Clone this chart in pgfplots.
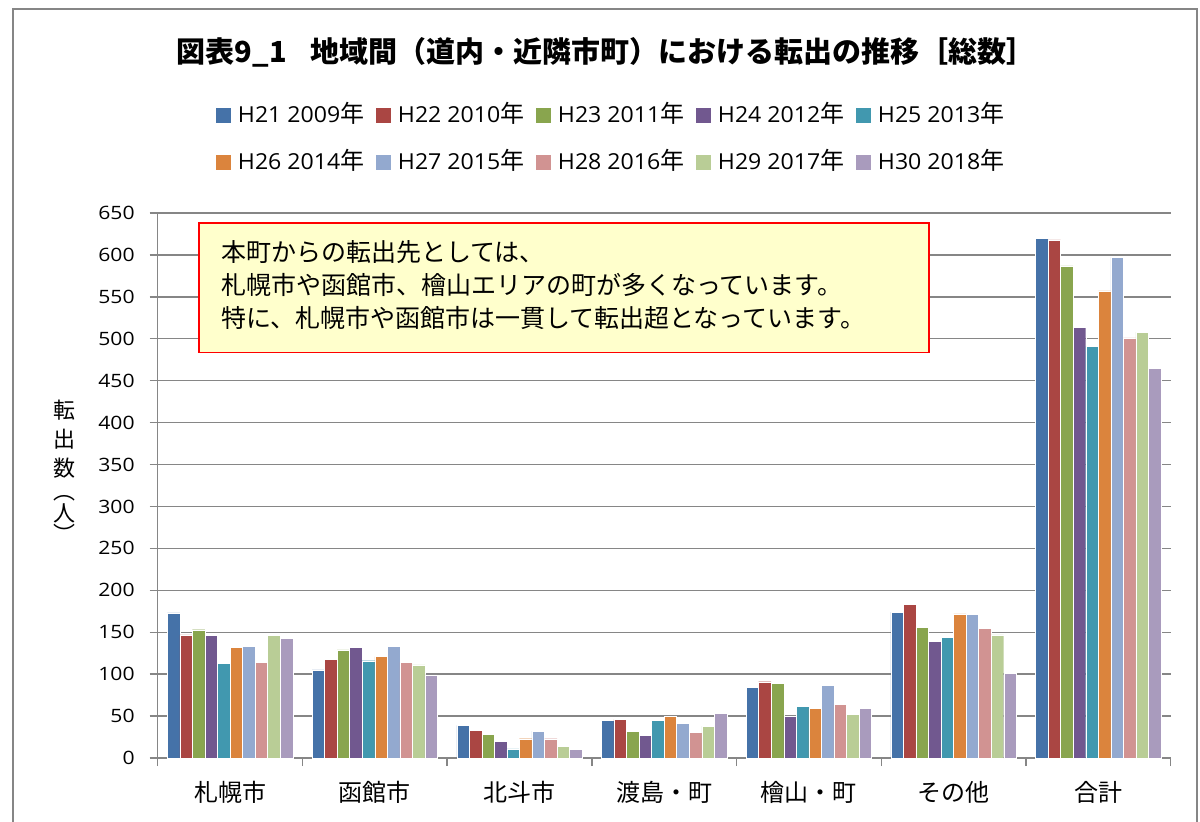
\documentclass[border=0pt]{standalone}
\usepackage{pgfplots}
\pgfplotsset{compat=1.18}
\usepackage{pgfplotstable}
\usepackage{fontspec}
\setmainfont{Noto Sans CJK JP}
\newfontfamily\jp{Noto Sans CJK JP}
\newfontfamily\lat[FakeStretch=1.05]{Open Sans}
\newfontfamily\tlat[FakeStretch=1.15]{Open Sans}
\definecolor{c1}{HTML}{4572A8}
\definecolor{c2}{HTML}{AA4643}
\definecolor{c3}{HTML}{89A54E}
\definecolor{c4}{HTML}{71588F}
\definecolor{c5}{HTML}{4198AF}
\definecolor{c6}{HTML}{DB843D}
\definecolor{c7}{HTML}{93A9CF}
\definecolor{c8}{HTML}{D19392}
\definecolor{c9}{HTML}{B9CD96}
\definecolor{c10}{HTML}{A99BBD}
\definecolor{gridgray}{HTML}{868686}
\definecolor{notefill}{HTML}{FFFFCC}

\pgfplotstableread{
cat y09 y10 y11 y12 y13 y14 y15 y16 y17 y18
0 173 147 153 146 113 132 133 114 146 143
1 105 118 129 132 116 121 133 114 111 99
2 39 33 28 20 11 23 32 23 14 10
3 45 46 32 27 45 50 41 31 38 53
4 84 91 89 50 62 59 87 64 52 59
5 174 183 156 139 144 172 171 155 147 101
6 620 618 587 514 491 557 597 501 508 465
}\datatable

\newcommand{\leg}[2]{\makebox[63.5pt][l]{\lat\fontsize{11}{13}\selectfont #1 #2{\jp\fontsize{12}{13}\selectfont 年}}}

\begin{document}
\begin{tikzpicture}
\useasboundingbox (0,0) rectangle (600pt,410.5pt);
\draw[gridgray, line width=0.75pt] (6.5pt,-2pt) -- (6.5pt,406pt) -- (598.5pt,406pt) -- (598.5pt,-2pt);
\node[font=\jp\bfseries\fontsize{14.5}{16}\selectfont] at (303pt,384.5pt) {図表9\_1\hspace{0.8em}地域間（道内・近隣市町）における転出の推移［総数］};
\begin{axis}[
  at={(78.85pt,31.5pt)}, anchor=south west,
  scale only axis, width=506.45pt, height=272.5pt,
  ybar=0pt, bar width=6.27pt,
  xmin=-0.5, xmax=6.5, ymin=0, ymax=650,
  enlargelimits=false,
  axis lines*=left,
  axis line style={gridgray, line width=0.7pt, -},
  tick align=outside,
  major tick length=4pt, minor tick length=4pt,
  tick style={gridgray, line width=0.7pt},
  xtick={0,...,6},
  xticklabels={札幌市,函館市,北斗市,渡島・町,檜山・町,その他,合計},
  every major x tick/.append style={draw=none},
  minor xtick={-0.5,0.5,...,6.5},
  ytick={0,50,...,650},
  ymajorgrids,
  grid style={gridgray, line width=0.7pt},
  /pgf/number format/assume math mode=true,
  yticklabel style={font=\tlat\fontsize{9.2}{10}\selectfont, xshift=-4pt},
  xticklabel style={font=\jp\fontsize{12}{13}\selectfont, yshift=-4pt},
  legend columns=5,
  legend image code/.code={\fill[#1,draw=none] (0pt,0pt) rectangle (7.5pt,7.3pt);},
  legend style={at={(0.447,1.135)}, anchor=center, draw=none, fill=none,
    inner sep=0pt, row sep=12.5pt,
    nodes={inner sep=0pt, text height=9pt, text depth=2pt, anchor=base west},
    /tikz/every odd column/.append style={column sep=3.5pt},
    /tikz/every even column/.append style={column sep=5.5pt}},
]
\addplot[fill=c1, draw=white, line width=0.2pt] table[x=cat,y=y09] {\datatable};
\addplot[fill=c2, draw=white, line width=0.2pt] table[x=cat,y=y10] {\datatable};
\addplot[fill=c3, draw=white, line width=0.2pt] table[x=cat,y=y11] {\datatable};
\addplot[fill=c4, draw=white, line width=0.2pt] table[x=cat,y=y12] {\datatable};
\addplot[fill=c5, draw=white, line width=0.2pt] table[x=cat,y=y13] {\datatable};
\addplot[fill=c6, draw=white, line width=0.2pt] table[x=cat,y=y14] {\datatable};
\addplot[fill=c7, draw=white, line width=0.2pt] table[x=cat,y=y15] {\datatable};
\addplot[fill=c8, draw=white, line width=0.2pt] table[x=cat,y=y16] {\datatable};
\addplot[fill=c9, draw=white, line width=0.2pt] table[x=cat,y=y17] {\datatable};
\addplot[fill=c10, draw=white, line width=0.2pt] table[x=cat,y=y18] {\datatable};
\legend{\leg{H21}{2009},\leg{H22}{2010},\leg{H23}{2011},\leg{H24}{2012},\leg{H25}{2013},
        \leg{H26}{2014},\leg{H27}{2015},\leg{H28}{2016},\leg{H29}{2017},\leg{H30}{2018}}
\end{axis}
\draw[red, line width=0.8pt, fill=notefill] (99.5pt,234.35pt) rectangle (464.35pt,298.85pt);
\node[anchor=west, inner sep=0pt, font=\jp\fontsize{12.5}{14}\selectfont] at (110.35pt,284.65pt) {本町からの転出先としては、};
\node[anchor=west, inner sep=0pt, font=\jp\fontsize{12.5}{14}\selectfont] at (110.35pt,268pt) {札幌市や函館市、檜山エリアの町が多くなっています。};
\node[anchor=west, inner sep=0pt, font=\jp\fontsize{12.5}{14}\selectfont] at (110.35pt,251.5pt) {特に、札幌市や函館市は一貫して転出超となっています。};
\node[anchor=north, inner sep=0pt, align=center, font=\jp\fontsize{11}{14.5}\selectfont] at (32.5pt,210.5pt)
  {転\\出\\数\\[-3pt]︵\\[-3.5pt]人\\[-4pt]︶};
\end{tikzpicture}
\end{document}
